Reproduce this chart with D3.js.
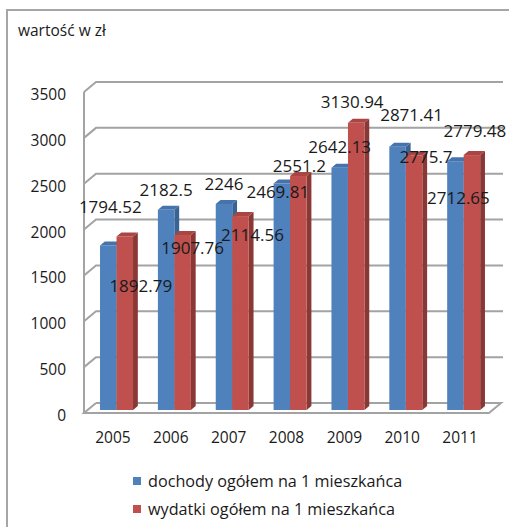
<!DOCTYPE html>
<html>
<head>
<meta charset="utf-8">
<script src="https://cdn.jsdelivr.net/npm/d3@7/dist/d3.min.js"></script>
<style>
  html, body { margin: 0; padding: 0; background: #fff; }
  svg { display: block; }
  text { font-family: "Open Sans", sans-serif; fill: #1a1a1a; }
</style>
</head>
<body>
<svg id="chart" width="509" height="527"></svg>
<script>
// ---- data ----
const years = ["2005", "2006", "2007", "2008", "2009", "2010", "2011"];
const dochody = [1794.52, 2182.5, 2246, 2469.81, 2642.13, 2871.41, 2712.65];
const wydatki = [1892.79, 1907.76, 2114.56, 2551.2, 3130.94, 2775.7, 2779.48];
const seriesNames = ["dochody ogółem na 1 mieszkańca", "wydatki ogółem na 1 mieszkańca"];
const yTicks = [0, 500, 1000, 1500, 2000, 2500, 3000, 3500];
const titleText = "wartość w zł";

// ---- layout / style ----
const colors = [
  { front: "#4F81BD", side: "#3A6392", top: "#4673AB" },
  { front: "#C0504D", side: "#8A3836", top: "#A94644" }
];
// label offsets (dx, dy) from top-front centre of each bar, mimicking the original placement
const labelOffsets = [
  [[2, -39], [0, -20], [0, -21], [-4, 8], [0, -21], [14, -32], [3, 36]],
  [[16, 49], [10, 12], [12, 18], [1, -11], [-4, -21], [12, 1], [3, -25]]
];

const svg = d3.select("#chart");
const D = { x: 12, y: -10 };           // depth vector of the plot box
const f0 = 0.3, f1 = 0.7;              // bar front/back as fraction of depth
const barW = 16.5;

const x = d3.scaleBand().domain(years).range([84, 489]).padding(0);
const y = d3.scaleLinear().domain([0, 3500]).range([413, 92]);

// outer frame
svg.append("rect").attr("x", 7).attr("y", 10).attr("width", 520).attr("height", 540)
  .attr("fill", "none").attr("stroke", "#a6a6a6").attr("stroke-width", 2);

// title
svg.append("text").attr("x", 18).attr("y", 30).attr("dominant-baseline", "central")
  .style("font-size", "15.5px").text(titleText);

const grid = svg.append("g").attr("fill", "none").attr("stroke", "#a3a3a3").attr("stroke-width", 2);
const x0 = x.range()[0], x1 = x.range()[1];

// gridlines on back wall + diagonal on side wall
yTicks.forEach(t => {
  const yf = y(t);
  if (t === 0) return;
  grid.append("path").attr("d",
    `M${x0},${yf} L${x0 + D.x},${yf + D.y} L${x1 + D.x + 2},${yf + D.y}`);
});
// floor
grid.append("path").attr("d",
  `M${x0 + D.x},${y(0) + D.y} L${x1 + D.x},${y(0) + D.y} L${x1},${y(0)} L${x0},${y(0)} L${x0 + D.x},${y(0) + D.y}`);
// left front edge
grid.append("path").attr("d", `M${x0},${y(3500)} L${x0},${y(0)}`);

// y tick labels
svg.append("g").selectAll("text").data(yTicks).join("text")
  .attr("x", 66).attr("y", d => y(d) + 2)
  .attr("text-anchor", "end").attr("dominant-baseline", "central")
  .style("font-size", "15.5px").text(d => d);

// x labels
svg.append("g").selectAll("text").data(years).join("text")
  .attr("x", d => x(d) + x.bandwidth() / 2).attr("y", 437)
  .attr("text-anchor", "middle").attr("dominant-baseline", "central")
  .style("font-size", "15.5px").text(d => d);

// bars
const series = [dochody, wydatki];
const bx = D.x * f0, by = D.y * f0;
const ddx = D.x * (f1 - f0), ddy = D.y * (f1 - f0);
const bars = svg.append("g");
const labelData = [];
years.forEach((yr, i) => {
  const c = x(yr) + x.bandwidth() / 2;
  series.forEach((s, k) => {
    const v = s[i];
    const left = c + bx + (k === 0 ? -barW : 0);
    const right = left + barW;
    const top = y(v) + by;
    const bottom = y(0) + by;
    const col = colors[k];
    // side
    bars.append("path").attr("fill", col.side).attr("d",
      `M${right},${top} L${right + ddx},${top + ddy} L${right + ddx},${bottom + ddy} L${right},${bottom} Z`);
    // top
    bars.append("path").attr("fill", col.top).attr("d",
      `M${left},${top} L${left + ddx},${top + ddy} L${right + ddx},${top + ddy} L${right},${top} Z`);
    // front
    bars.append("rect").attr("fill", col.front)
      .attr("x", left).attr("y", top).attr("width", barW).attr("height", bottom - top);
    labelData.push({ v, cx: (left + right) / 2 + labelOffsets[k][i][0], cy: top + labelOffsets[k][i][1] });
  });
});

// data labels
svg.append("g").selectAll("text").data(labelData).join("text")
  .attr("x", d => d.cx).attr("y", d => d.cy)
  .attr("text-anchor", "middle").attr("dominant-baseline", "central")
  .style("font-size", "17px").text(d => d.v);

// legend
const leg = svg.append("g");
seriesNames.forEach((n, k) => {
  const yy = 481 + k * 28;
  leg.append("rect").attr("x", 133).attr("y", yy - 4).attr("width", 8).attr("height", 8)
    .attr("fill", colors[k].front);
  leg.append("text").attr("x", 148).attr("y", yy).attr("dominant-baseline", "central")
    .style("font-size", "16.2px").text(n);
});
</script>
</body>
</html>
